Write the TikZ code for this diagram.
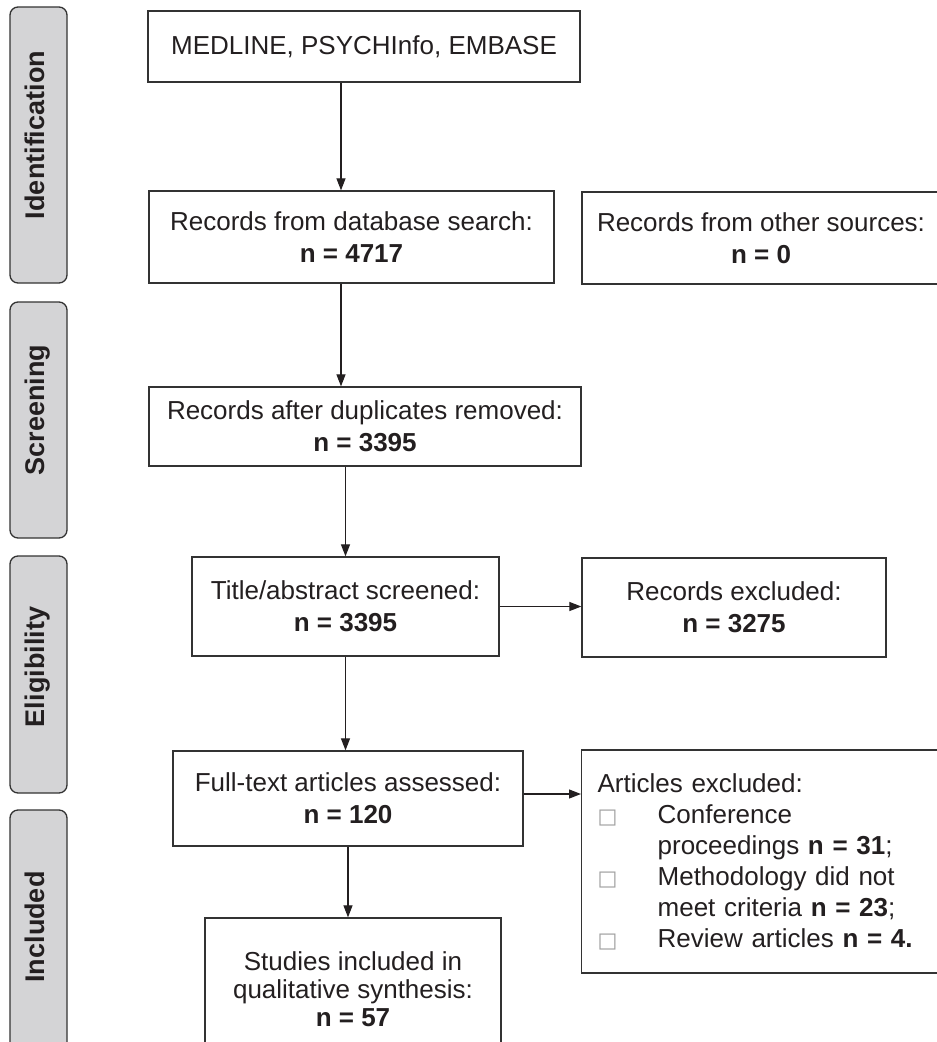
\documentclass[tikz,border=0pt]{standalone}
\usepackage{fontspec}
\setmainfont{Liberation Sans}
\newfontfamily\dejavu{DejaVu Sans}
\usetikzlibrary{arrows.meta}
\definecolor{ink}{HTML}{231F20}
\definecolor{edgecol}{HTML}{333333}
\definecolor{barfill}{HTML}{D4D4D6}
\newcommand\sqb{{\dejavu\fontsize{21}{21}\selectfont\color{gray!75}□}}
\begin{document}
\begin{tikzpicture}[x=1pt,y=-1pt,
  flowbox/.style={draw=edgecol, line width=1.3pt, fill=white, inner sep=0pt, align=center,
    text=ink, font=\fontsize{26}{32}\selectfont},
  sidebar/.style={draw=edgecol, line width=1.3pt, fill=barfill, rounded corners=8pt, inner sep=0pt,
    minimum width=57pt},
  sidelab/.style={rotate=90, anchor=base, text=ink, font=\bfseries\fontsize{27}{30}\selectfont},
  arr/.style={draw=ink, line width=1.2pt, -{Triangle[length=12pt,width=9pt]}}]
\useasboundingbox (0,0) rectangle (937,1042);
\clip (0,0) rectangle (937,1042);
\fill[white] (0,0) rectangle (937,1042);
% side bars
\node[sidebar, minimum height=276pt] (bid) at (38.5,145) {};
\node[sidebar, minimum height=236pt] (bscr) at (38.5,420) {};
\node[sidebar, minimum height=237pt] (bel) at (38.5,674.5) {};
\node[sidebar, minimum height=250pt] (binc) at (38.5,935) {};
\node[sidelab] (lid) at (44,135) {Identification};
\node[sidelab] (lscr) at (44,410) {Screening};
\node[sidelab] (lel) at (44,667) {Eligibility};
\node[sidelab] (linc) at (44,927) {Included};
% boxes
\node[flowbox, minimum width=432pt, minimum height=71pt] (b1) at (364,46.5)
  {MEDLINE, PSYCHInfo, EMBASE};
\node[flowbox, minimum width=405pt, minimum height=92pt] (b2) at (351.5,237)
  {Records from database search:\\\textbf{n = 4717}};
\node[flowbox, minimum width=358pt, minimum height=92pt] (b3) at (761,238)
  {Records from other sources:\\\textbf{n = 0}};
\node[flowbox, minimum width=432pt, minimum height=79pt] (b4) at (365,426.5)
  {Records after duplicates removed:\\\textbf{n = 3395}};
\node[flowbox, minimum width=307pt, minimum height=99pt] (b5) at (345.5,606.5)
  {Title/abstract screened:\\\textbf{n = 3395}};
\node[flowbox, minimum width=304pt, minimum height=99pt] (b6) at (734,607.5)
  {Records excluded:\\\textbf{n = 3275}};
\node[flowbox, minimum width=350pt, minimum height=95pt] (b7) at (348,798.5)
  {Full-text articles assessed:\\\textbf{n = 120}};
\node[flowbox, anchor=west, align=left, inner xsep=16pt, text width=327pt, minimum height=223pt,
  font=\fontsize{26}{31}\selectfont] (b8) at (581,861.5)
  {Articles excluded:\\
   \makebox[60pt][l]{\sqb}Conference\\
   \hspace*{60pt}proceedings \textbf{n = 31};\\
   \makebox[60pt][l]{\sqb}Methodology did not\\
   \hspace*{60pt}meet criteria \textbf{n = 23};\\
   \makebox[60pt][l]{\sqb}Review articles \textbf{n = 4.}};
\node[flowbox, minimum width=296pt, minimum height=142pt, font=\fontsize{26}{28}\selectfont] (b9) at (353,989)
  {Studies included in\\qualitative synthesis:\\\textbf{n = 57}};
% connectors
\coordinate (c1) at (341,0);
\draw[arr] (b1.south -| c1) -- (b2.north -| c1);
\draw[arr] (b2.south -| c1) -- (b4.north -| c1);
\draw[arr] (b5.north |- b4.south) -- (b5.north);
\draw[arr] (b5.east) -- (b6.west |- b5.east);
\draw[arr] (b5.south) -- (b7.north -| b5.south);
\draw[arr] ([yshift=4.5pt]b7.east) -- ([yshift=4.5pt]b8.west |- b7.east);
\draw[arr] (b7.south) -- (b9.north -| b7.south);
\end{tikzpicture}
\end{document}
